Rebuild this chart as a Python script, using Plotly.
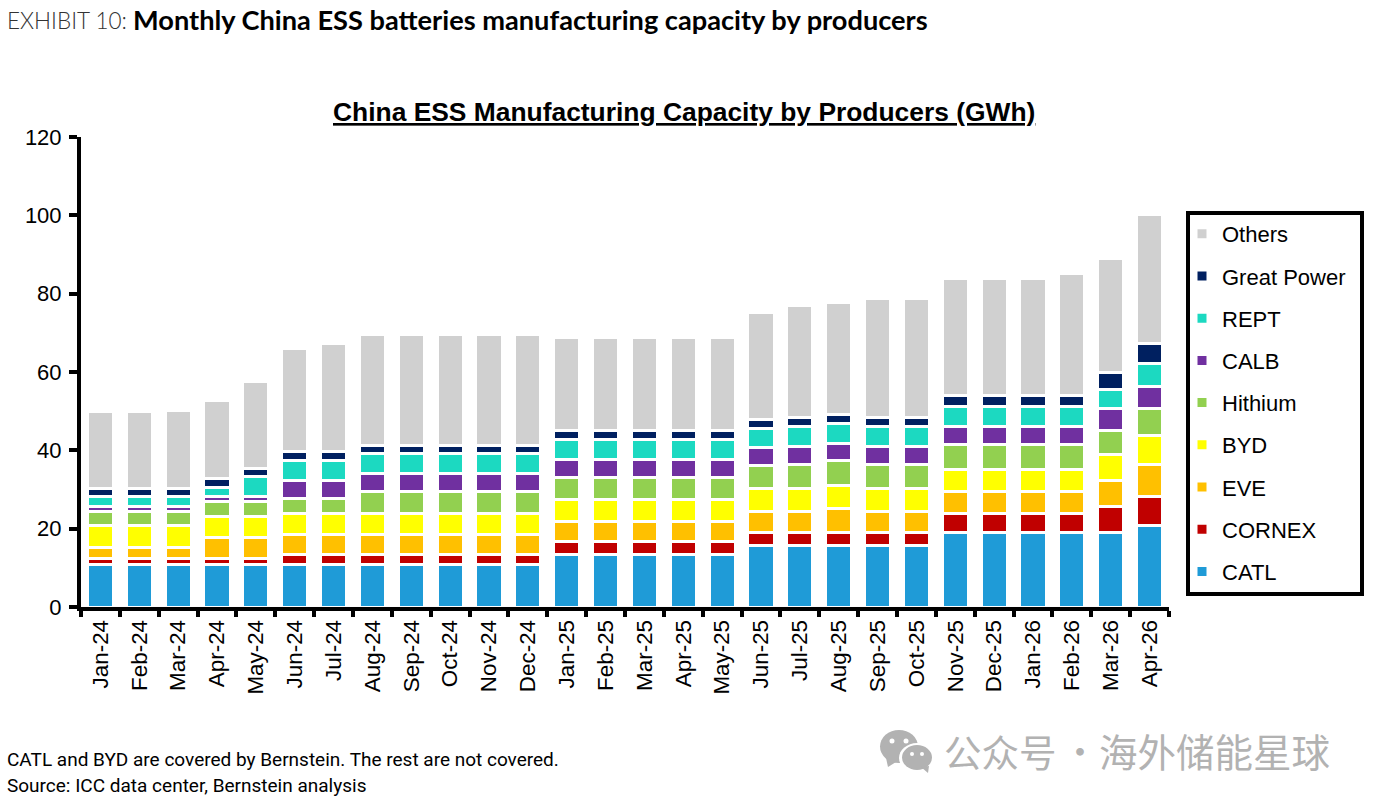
import plotly.graph_objects as go

months = ["Jan-24","Feb-24","Mar-24","Apr-24","May-24","Jun-24","Jul-24","Aug-24","Sep-24","Oct-24","Nov-24","Dec-24",
          "Jan-25","Feb-25","Mar-25","Apr-25","May-25","Jun-25","Jul-25","Aug-25","Sep-25","Oct-25","Nov-25","Dec-25",
          "Jan-26","Feb-26","Mar-26","Apr-26"]
catl = [10.9,10.9,10.9,10.9,10.9,10.9,10.9,10.9,10.9,10.9,10.9,10.9,13.3,13.3,13.3,13.3,13.3,15.8,15.8,15.8,15.8,15.8,19.1,19.1,19.1,19.1,19.1,20.7]
cornex = [1.4,1.4,1.4,1.4,1.4,2.4,2.4,2.4,2.4,2.4,2.4,2.4,3.3,3.3,3.3,3.3,3.3,3.3,3.3,3.3,3.3,3.3,4.8,4.8,4.8,4.8,6.6,7.6]
eve = [3.0,3.0,3.0,5.5,5.5,5.3,5.3,5.3,5.3,5.3,5.3,5.3,5.3,5.3,5.3,5.3,5.3,5.4,5.4,6.1,5.4,5.4,5.6,5.6,5.6,5.6,6.6,8.1]
byd = [5.6,5.6,5.6,5.4,5.4,5.3,5.3,5.3,5.3,5.3,5.3,5.3,5.6,5.6,5.6,5.6,5.6,5.8,5.8,5.8,5.8,5.8,5.6,5.6,5.6,5.6,6.6,7.4]
hithium = [3.5,3.5,3.5,3.8,3.8,3.9,3.9,5.6,5.6,5.6,5.6,5.6,5.6,5.6,5.6,5.6,5.6,5.8,6.1,6.4,6.1,6.1,6.4,6.4,6.4,6.4,6.1,6.8]
calb = [1.3,1.3,1.3,1.3,1.3,4.5,4.5,4.5,4.5,4.5,4.5,4.5,4.6,4.6,4.6,4.6,4.6,4.6,4.6,4.3,4.6,4.6,4.6,4.6,4.6,4.6,5.6,5.6]
rept = [2.6,2.6,2.6,2.2,5.0,5.1,5.1,5.1,5.1,5.1,5.1,5.1,5.1,5.1,5.1,5.1,5.1,4.9,5.1,5.1,5.1,5.1,5.0,5.0,5.0,5.0,4.9,5.9]
great_power = [2.0,2.0,2.0,2.3,2.1,2.3,2.3,2.2,2.2,2.2,2.2,2.2,2.3,2.3,2.3,2.3,2.3,2.2,2.2,2.3,2.2,2.2,2.8,2.8,2.8,2.8,4.5,5.1]
others = [19.7,19.7,19.9,20.0,22.2,26.2,27.7,28.2,28.2,28.2,28.2,28.2,23.7,23.7,23.7,23.7,23.7,27.4,28.7,28.7,30.5,30.5,30.1,30.1,30.1,31.2,29.1,33.1]

series = [("CATL",catl,"#1F9BD7"),("CORNEX",cornex,"#C00000"),("EVE",eve,"#FFC000"),("BYD",byd,"#FFFF00"),
          ("Hithium",hithium,"#92D050"),("CALB",calb,"#7030A0"),("REPT",rept,"#1CD9C1"),
          ("Great Power",great_power,"#002060"),("Others",others,"#D0D0D0")]

W, H = 1375, 808
L, R, T, B = 81, 1169, 137, 607
px = lambda x: (x - L) / (R - L)
py = lambda y: (B - y) / (B - T)

fig = go.Figure()
for i, (name, vals, col) in enumerate(series):
    fig.add_bar(x=months, y=vals, name=name, legendgroup=name, legendrank=1000-i,
                marker=dict(color=col, line=dict(color="white", width=3)))

FONT = "Liberation Sans, Arial, sans-serif"
fig.update_layout(
    width=W, height=H, barmode="stack", bargap=0.33,
    margin=dict(l=L, r=W-R, t=T, b=H-B, autoexpand=False),
    paper_bgcolor="white", plot_bgcolor="white",
    font=dict(family=FONT, color="black", size=20),
    legend=dict(x=px(1182), y=py(213), xanchor="left", yanchor="top",
                borderwidth=0, bgcolor="rgba(0,0,0,0)",
                traceorder="grouped", tracegroupgap=10.6,
                font=dict(size=22, family=FONT)),
    xaxis=dict(type="category", tickson="boundaries", ticks="outside", ticklen=6, tickwidth=3.5,
               tickcolor="black", showline=True, linewidth=4, linecolor="black",
               tickangle=-90, tickfont=dict(size=22.4), showgrid=False, zeroline=False),
    yaxis=dict(range=[0,120], dtick=20, ticks="outside", ticklen=8, tickwidth=3.5, tickcolor="black",
               ticklabelstandoff=3, showline=True, linewidth=4, linecolor="black",
               tickfont=dict(size=22), showgrid=False, zeroline=False),
)

# legend frame
fig.add_shape(type="rect", xref="paper", yref="paper", x0=px(1188), x1=px(1362), y0=py(594), y1=py(213),
              line=dict(color="black", width=4), fillcolor="rgba(0,0,0,0)")

def text(x, y, s, size, fam=FONT, color="black", anchor="left", weight=None):
    fig.add_annotation(xref="paper", yref="paper", x=px(x), y=py(y), text=s, showarrow=False,
                       xanchor=anchor, yanchor="middle", align="left",
                       font=dict(size=size, family=fam, color=color, weight=weight))

text(684, 112, "<b><u>China ESS Manufacturing Capacity by Producers (GWh)</u></b>", 26.4, anchor="center")
text(5, 20, "EXHIBIT 10:", 22.5, fam="Lato", color="#333333", weight=300)
text(131, 19.5, "<b>Monthly China ESS batteries manufacturing capacity by producers</b>", 27.2, fam="Lato")
text(5, 759, "CATL and BYD are covered by Bernstein. The rest are not covered.", 19, fam="Roboto")
text(5, 785, "Source: ICC data center, Bernstein analysis", 19, fam="Roboto")
WM = "#B2B2B2"
text(942, 750, "公众号", 37.5, fam="Noto Sans CJK SC", color=WM)
text(1060, 750, "·", 36, fam="Noto Sans CJK SC", color=WM)
text(1097, 750, "海外储能星球", 38.5, fam="Noto Sans CJK SC", color=WM)

# watermark icon
def oval(x0, y0, x1, y1, col):
    fig.add_shape(type="circle", xref="paper", yref="paper", x0=px(x0), x1=px(x1),
                  y0=py(y1), y1=py(y0), fillcolor=col, line=dict(width=0))
def tri(pts, col):
    d = "M" + " L".join(f"{px(a):.5f},{py(b):.5f}" for a, b in pts) + " Z"
    fig.add_shape(type="path", xref="paper", yref="paper", path=d, fillcolor=col, line=dict(width=0))
oval(880, 730, 918, 763, WM)
tri([(886,758),(896,762),(888,767)], WM)
oval(899, 743, 935, 773, "white")
oval(902, 745, 932, 770, WM)
tri([(921,767),(929,766),(928,773)], WM)
for cx, cy in [(892,741),(906,741)]:
    oval(cx-2.5, cy-2.5, cx+2.5, cy+2.5, "white")
for cx, cy in [(912,754),(922,754)]:
    oval(cx-2, cy-2, cx+2, cy+2, "white")

fig.write_html("out.html", post_script="document.body.style.margin='0';", config=dict(displayModeBar=False))
